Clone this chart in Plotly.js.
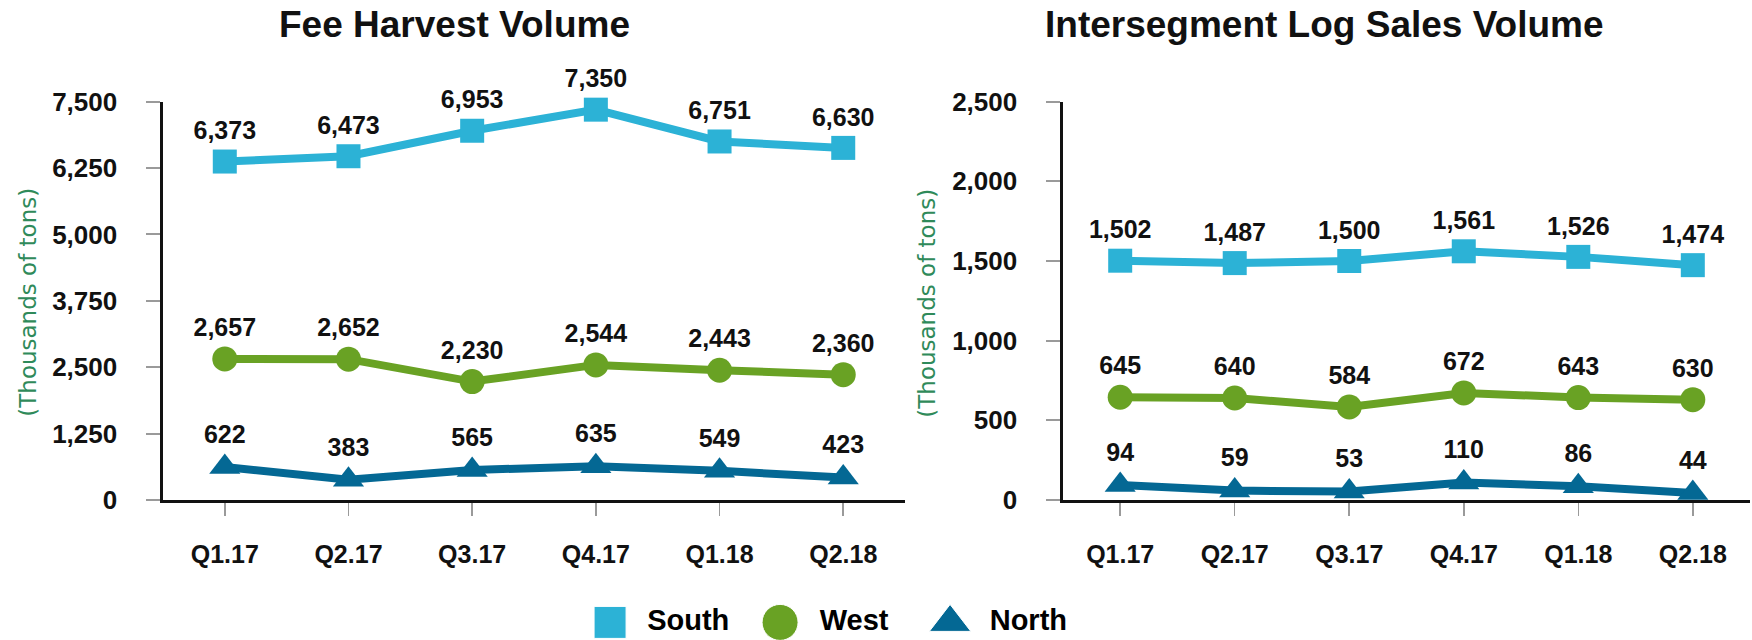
<!DOCTYPE html>
<html>
<head>
<meta charset="utf-8">
<script src="https://cdn.plot.ly/plotly-3.0.1.min.js"></script>
<style>
  html, body { margin: 0; padding: 0; background: #ffffff; }
  #chart { width: 1752px; height: 640px; }
</style>
</head>
<body>
<div id="chart"></div>
<script>
// ---- data ----
const quarters = ['Q1.17', 'Q2.17', 'Q3.17', 'Q4.17', 'Q1.18', 'Q2.18'];
const seriesNames = ['South', 'West', 'North'];

const feeSouth = [6373, 6473, 6953, 7350, 6751, 6630];
const feeWest  = [2657, 2652, 2230, 2544, 2443, 2360];
const feeNorth = [622, 383, 565, 635, 549, 423];

const logSouth = [1502, 1487, 1500, 1561, 1526, 1474];
const logWest  = [645, 640, 584, 672, 643, 630];
const logNorth = [94, 59, 53, 110, 86, 44];

const feeTicks = [0, 1250, 2500, 3750, 5000, 6250, 7500];
const logTicks = [0, 500, 1000, 1500, 2000, 2500];

const chartTitles = ['Fee Harvest Volume', 'Intersegment Log Sales Volume'];
const yTitle = '(Thousands of tons)';

// ---- styles ----
const FONT = '"Liberation Sans", Arial, sans-serif';
const colors = { South: '#2cb2d6', West: '#69a224', North: '#046894' };
const symbols = { South: 'square', West: 'circle', North: 'triangle-up' };
const sizes = { South: 24, West: 25, North: 27 };

function lineTrace(name, y, xa, ya) {
  return {
    type: 'scatter', mode: 'lines+markers+text',
    x: quarters, y: y, name: name,
    xaxis: xa, yaxis: ya,
    line: { color: colors[name], width: 8 },
    marker: { color: colors[name], symbol: symbols[name], size: sizes[name], opacity: 1 },
    texttemplate: '%{y:,}', textposition: 'top center',
    textfont: { family: FONT, size: 25, color: '#111111', weight: 'bold' },
    cliponaxis: false, showlegend: false, hoverinfo: 'x+y+name'
  };
}

const traces = [
  lineTrace('South', feeSouth, 'x', 'y'),
  lineTrace('West', feeWest, 'x', 'y'),
  lineTrace('North', feeNorth, 'x', 'y'),
  lineTrace('South', logSouth, 'x2', 'y2'),
  lineTrace('West', logWest, 'x2', 'y2'),
  lineTrace('North', logNorth, 'x2', 'y2'),
  // custom legend (large markers)
  {
    type: 'scatter', mode: 'markers+text',
    x: seriesNames, y: seriesNames.map(() => 0),
    xaxis: 'x3', yaxis: 'y3',
    marker: {
      color: seriesNames.map(n => colors[n]),
      symbol: seriesNames.map(n => symbols[n]),
      size: [32, 36, 36],
      opacity: 1
    },
    text: seriesNames.map(n => '  ' + n),
    textposition: 'middle right',
    textfont: { family: FONT, size: 29, color: '#000000', weight: 'bold' },
    cliponaxis: false, showlegend: false, hoverinfo: 'skip'
  }
];

const xCommon = {
  type: 'category', range: [-0.5, 5.5],
  showline: true, linecolor: '#111111', linewidth: 2.5,
  ticks: 'outside', ticklen: 13, tickwidth: 1.5, tickcolor: '#9a9a9a',
  tickfont: { family: FONT, size: 25, color: '#111111', weight: 'bold' },
  ticklabelstandoff: 17,
  showgrid: false, zeroline: false, layer: 'below traces', fixedrange: true
};
const yCommon = {
  showline: true, linecolor: '#111111', linewidth: 2.5,
  ticks: 'outside', ticklen: 14, tickwidth: 2, tickcolor: '#9a9a9a',
  tickfont: { family: FONT, size: 26, color: '#111111', weight: 'bold' },
  tickformat: ',d', ticklabelstandoff: 24,
  showgrid: false, zeroline: false, layer: 'below traces', fixedrange: true
};

const yDomain = [0.21875, 0.8411];

const layout = {
  width: 1752, height: 640,
  margin: { l: 0, r: 0, t: 0, b: 0 },
  paper_bgcolor: '#ffffff', plot_bgcolor: 'rgba(0,0,0,0)',
  showlegend: false,
  xaxis:  Object.assign({}, xCommon, { domain: [0.0930, 0.5166], anchor: 'y' }),
  yaxis:  Object.assign({}, yCommon, { domain: yDomain, anchor: 'x', range: [0, 7500], tickvals: feeTicks }),
  xaxis2: Object.assign({}, xCommon, { domain: [0.6067, 0.9989], anchor: 'y2' }),
  yaxis2: Object.assign({}, yCommon, { domain: yDomain, anchor: 'x2', range: [0, 2500], tickvals: logTicks }),
  xaxis3: { domain: [0.2997, 0.5908], anchor: 'y3', type: 'category', range: [-0.5, 2.5], visible: false, fixedrange: true },
  yaxis3: { domain: [0, 0.055], anchor: 'x3', range: [-1, 1], visible: false, fixedrange: true },
  annotations: [
    { text: chartTitles[0], xref: 'paper', yref: 'paper', x: 454 / 1752, y: 0.961,
      xanchor: 'center', yanchor: 'middle', showarrow: false,
      font: { family: FONT, size: 37, color: '#111111', weight: 'bold' } },
    { text: chartTitles[1], xref: 'paper', yref: 'paper', x: 1324 / 1752, y: 0.961,
      xanchor: 'center', yanchor: 'middle', showarrow: false,
      font: { family: FONT, size: 37, color: '#111111', weight: 'bold' } },
    { text: yTitle, xref: 'paper', yref: 'paper', x: 28 / 1752, y: 0.527, textangle: -90,
      xanchor: 'center', yanchor: 'middle', showarrow: false,
      font: { family: '"DejaVu Sans", sans-serif', size: 23, color: '#2f8a5a' } },
    { text: yTitle, xref: 'paper', yref: 'paper', x: 927 / 1752, y: 0.527, textangle: -90,
      xanchor: 'center', yanchor: 'middle', showarrow: false,
      font: { family: '"DejaVu Sans", sans-serif', size: 23, color: '#2f8a5a' } }
  ]
};

Plotly.newPlot('chart', traces, layout, { displayModeBar: false, staticPlot: true });
</script>
</body>
</html>
